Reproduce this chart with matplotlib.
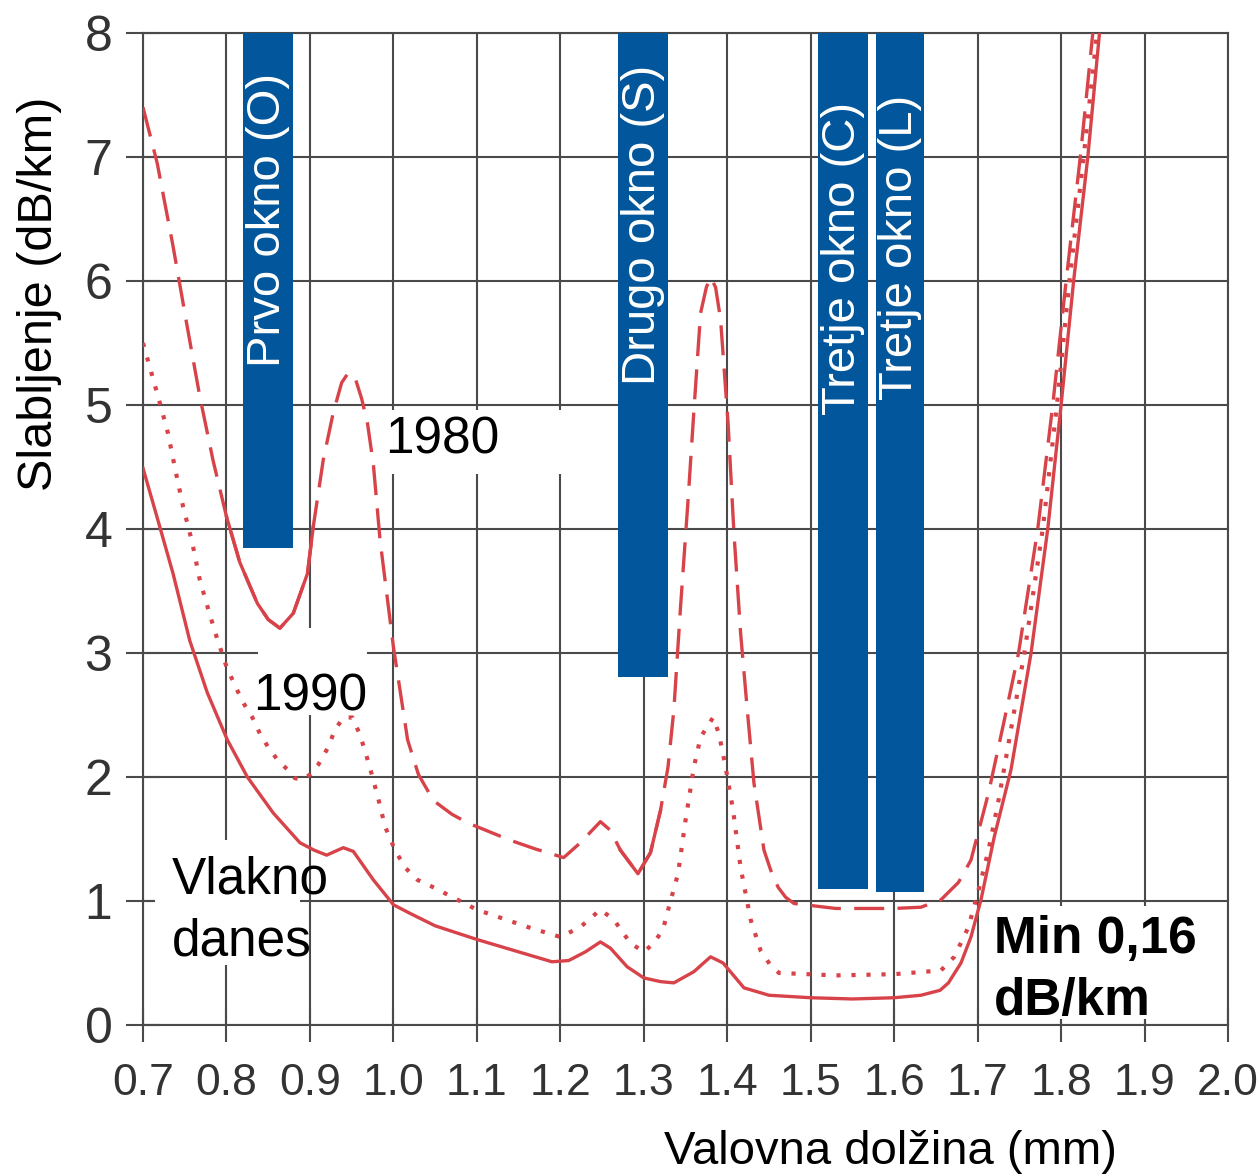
import matplotlib.pyplot as plt
from matplotlib.patches import Rectangle
import numpy as np

plt.rcParams['font.family'] = ['Liberation Sans', 'DejaVu Sans']

# krivulja "Vlakno danes"
x_danes = [0.70, 0.72, 0.736, 0.756, 0.777, 0.801, 0.825, 0.856, 0.888, 0.905, 0.92,
           0.94, 0.952, 0.976, 1.0, 1.02, 1.05, 1.10, 1.15, 1.19, 1.21, 1.23, 1.248,
           1.26, 1.28, 1.30, 1.32, 1.336, 1.36, 1.38, 1.395, 1.41, 1.42, 1.45, 1.50,
           1.55, 1.60, 1.632, 1.655, 1.665, 1.68, 1.692, 1.704, 1.72, 1.74, 1.764,
           1.784, 1.80, 1.815, 1.832, 1.846]
y_danes = [4.49, 4.02, 3.64, 3.10, 2.68, 2.30, 2.00, 1.71, 1.47, 1.41, 1.37,
           1.43, 1.40, 1.17, 0.97, 0.90, 0.80, 0.69, 0.59, 0.51, 0.52, 0.59, 0.67,
           0.62, 0.47, 0.38, 0.35, 0.34, 0.43, 0.55, 0.50, 0.38, 0.30, 0.24, 0.22,
           0.21, 0.22, 0.24, 0.28, 0.34, 0.50, 0.71, 1.01, 1.52, 2.06, 3.00,
           4.00, 5.00, 6.00, 7.00, 8.00]

# krivulja 1980
x_1980 = [0.70, 0.717, 0.736, 0.753, 0.768, 0.784, 0.80, 0.816, 0.837, 0.85, 0.864,
          0.88, 0.897, 0.904, 0.916, 0.928, 0.938, 0.946, 0.955, 0.962, 0.969, 0.976,
          0.984, 1.0, 1.017, 1.03, 1.048, 1.07, 1.089, 1.14, 1.17, 1.204, 1.224,
          1.248, 1.26, 1.272, 1.293, 1.308, 1.32, 1.329, 1.336, 1.344, 1.353, 1.36,
          1.368, 1.375, 1.38, 1.386, 1.392, 1.401, 1.408, 1.416, 1.424, 1.432, 1.444,
          1.452, 1.461, 1.47, 1.48, 1.53, 1.60, 1.632, 1.656, 1.677, 1.692, 1.713,
          1.732, 1.749, 1.772, 1.79, 1.806, 1.823, 1.838]
y_1980 = [7.40, 6.95, 6.28, 5.63, 5.07, 4.55, 4.10, 3.73, 3.40, 3.27, 3.20,
          3.32, 3.64, 4.02, 4.56, 4.94, 5.18, 5.26, 5.20, 5.05, 4.85, 4.52,
          3.91, 3.05, 2.30, 2.02, 1.81, 1.70, 1.63, 1.49, 1.42, 1.35, 1.47,
          1.64, 1.57, 1.41, 1.22, 1.39, 1.73, 2.08, 2.54, 3.37, 4.23, 4.95,
          5.74, 5.95, 6.03, 5.95, 5.69, 4.85, 3.97, 3.16, 2.54, 1.95, 1.41,
          1.25, 1.11, 1.03, 0.98, 0.94, 0.94, 0.95, 1.01, 1.15, 1.33, 1.87,
          2.46, 3.00, 4.00, 5.00, 6.00, 7.00, 8.00]

# krivulja 1990
x_1990 = [0.70, 0.71, 0.72, 0.73, 0.738, 0.748, 0.759, 0.768, 0.78, 0.79, 0.80, 0.81,
          0.82, 0.831, 0.84, 0.85, 0.861, 0.873, 0.882, 0.892, 0.90, 0.91, 0.921,
          0.93, 0.94, 0.951, 0.96, 0.97, 0.981, 0.99, 1.002, 1.014, 1.029, 1.048,
          1.10, 1.161, 1.20, 1.224, 1.248, 1.264, 1.284, 1.30, 1.312, 1.323, 1.33,
          1.341, 1.35, 1.36, 1.368, 1.383, 1.39, 1.398, 1.407, 1.416, 1.428, 1.44,
          1.452, 1.462, 1.53, 1.60, 1.656, 1.672, 1.689, 1.70, 1.713, 1.725, 1.737,
          1.756, 1.778, 1.795, 1.81, 1.827, 1.843]
y_1990 = [5.50, 5.26, 5.02, 4.77, 4.50, 4.18, 3.89, 3.59, 3.31, 3.09, 2.89, 2.74,
          2.60, 2.48, 2.35, 2.24, 2.14, 2.06, 1.99, 1.98, 2.02, 2.10, 2.23,
          2.38, 2.48, 2.48, 2.34, 2.12, 1.85, 1.60, 1.41, 1.27, 1.17, 1.11,
          0.93, 0.79, 0.71, 0.79, 0.93, 0.85, 0.66, 0.59, 0.66, 0.77, 0.95,
          1.22, 1.65, 2.08, 2.32, 2.48, 2.35, 2.08, 1.73, 1.27, 0.85, 0.60,
          0.48, 0.42, 0.40, 0.41, 0.44, 0.55, 0.79, 1.06, 1.41, 1.81, 2.27,
          3.00, 4.00, 5.00, 6.00, 7.00, 8.00]

# okna
okna = ['Prvo okno (O)', 'Drugo okno (S)', 'Tretje okno (C)', 'Tretje okno (L)']
okna_levo = [0.82, 1.269, 1.509, 1.578]
okna_desno = [0.88, 1.329, 1.569, 1.636]
okna_spodaj = [3.85, 2.81, 1.10, 1.07]
okna_vrh = 8.0

rdeca = '#d8434a'
modra = '#02569b'
siva = '#4a4a4a'

fig = plt.figure(figsize=(12.59, 11.74), dpi=100)
ax = fig.add_axes([0.1136, 0.1269, 0.8618, 0.845])
ax.set_xlim(0.7, 2.0)
ax.set_ylim(0, 8)

xt = np.round(np.arange(0.7, 2.001, 0.1), 1)
ax.set_xticks(xt)
ax.set_xticklabels([f'{v:.1f}' for v in xt], fontsize=32, color='#333333')
ax.set_yticks(range(0, 9))
ax.set_yticklabels([str(v) for v in range(0, 9)], fontsize=36, color='#333333')
ax.tick_params(direction='inout', length=24, width=1.5, color=siva)
ax.tick_params(axis='x', pad=15)
ax.tick_params(axis='y', pad=10)
ax.grid(color=siva, lw=1.5, zorder=0)
ax.set_axisbelow(True)
for s in ax.spines.values():
    s.set_color(siva)
    s.set_linewidth(1.5)

# bele podlage za napise
for (x0, x1, y0, y1) in [(0.96, 1.254, 4.44, 4.96), (0.838, 0.968, 2.50, 3.20),
                         (0.714, 0.888, 0.48, 1.49), (1.71, 1.975, 0.05, 0.96)]:
    ax.add_patch(Rectangle((x0, y0), x1 - x0, y1 - y0, facecolor='white',
                           edgecolor='none', zorder=1))

ax.plot(x_danes, y_danes, color=rdeca, lw=2.4, zorder=3)
ax.plot(x_1980, y_1980, color=rdeca, lw=2.4, ls=(0, (9, 4)), zorder=3)
# v izvirniku sta dolini krivulje 1980 narisani polno
x80 = np.array(x_1980)
y80 = np.array(y_1980)
for a, b in [(0.80, 0.904), (1.272, 1.32)]:
    m = (x80 >= a) & (x80 <= b)
    ax.plot(x80[m], y80[m], color=rdeca, lw=2.4, zorder=3)
ax.plot(x_1990, y_1990, color=rdeca, lw=3.0, ls=(0, (1, 2.6)), zorder=3)

ax.bar(okna_levo, [okna_vrh - b for b in okna_spodaj], bottom=okna_spodaj,
       width=[d - l for l, d in zip(okna_levo, okna_desno)], align='edge',
       color=modra, zorder=4)
okna_zacetek = [5.31, 5.16, 4.92, 5.04]
for ime, l, d, z in zip(okna, okna_levo, okna_desno, okna_zacetek):
    ax.text((l + d) / 2, z, ime, rotation=90, rotation_mode='anchor',
            ha='left', va='center', color='white', fontsize=34, zorder=5)

ax.text(0.990, 4.61, '1980', fontsize=37, zorder=5)
ax.text(0.832, 2.54, '1990', fontsize=37, zorder=5)
ax.text(0.735, 1.06, 'Vlakno', fontsize=37, zorder=5)
ax.text(0.735, 0.56, 'danes', fontsize=37, zorder=5)
ax.text(1.72, 0.58, 'Min 0,16', fontsize=37, fontweight='bold', zorder=5)
ax.text(1.72, 0.08, 'dB/km', fontsize=37, fontweight='bold', zorder=5)

fig.text(40 / 1259, 0.7496, 'Slabljenje (dB/km)', rotation=90, ha='center',
         va='center', fontsize=35)
fig.text(890 / 1259, 0.0085, 'Valovna dolžina (mm)', ha='center',
         va='baseline', fontsize=34)

fig.savefig('out.png', dpi=100)
